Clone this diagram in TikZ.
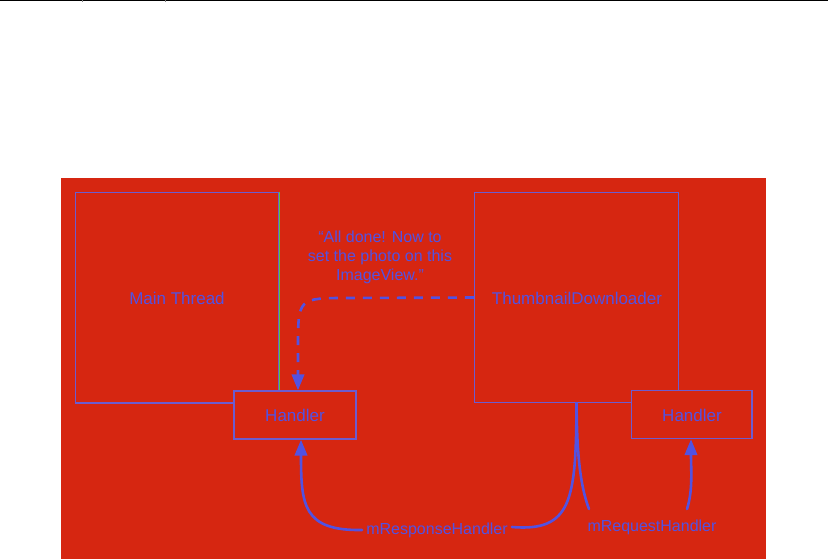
\documentclass[tikz,border=0pt]{standalone}
\usepackage{fontspec}
\setmainfont{Liberation Sans}
\usetikzlibrary{arrows.meta}
\definecolor{bgred}{RGB}{214,38,17}
\definecolor{ink}{RGB}{82,82,226}
\definecolor{edge}{RGB}{108,92,208}
\definecolor{gedge}{RGB}{95,200,50}
\tikzset{
  box/.style={draw=edge, line width=1.4pt, fill=bgred, inner sep=0pt},
  lbl/.style={text=ink, font=\fontsize{16}{19}\selectfont, inner sep=0pt, align=center},
  blbl/.style={text=ink, font=\fontsize{17}{20}\selectfont, inner sep=0pt, align=center},
  conn/.style={draw=ink, line width=2.6pt, line cap=round},
  tip/.style={-{Triangle[length=16pt,width=12.5pt]}},
}
\begin{document}
\begin{tikzpicture}[x=1pt,y=-1pt]
\useasboundingbox (0,0) rectangle (828,559);
\fill[white] (0,0) rectangle (828,559);
\draw[black, line width=1.5pt] (0,0.75) -- (828,0.75);
\draw[gray, line width=0.6pt] (82,0) -- (82,2.5) (165,0) -- (165,2.5);
\fill[bgred] (61,178) rectangle (766,559);
% boxes
\node[box, minimum width=203.5pt, minimum height=210.5pt] (mt) at (177.25,297.75) {};
\draw[gedge, line width=1.4pt] (mt.north east) -- (mt.south east);
\node[box, minimum width=204pt, minimum height=210pt] (td) at (576.5,297.5) {};
\node[box, minimum width=122pt, minimum height=48pt] (h1) at (295,415) {};
\node[box, minimum width=120.5pt, minimum height=48pt] (h2) at (691.75,414.5) {};
% texts
\node[blbl] (mtt) at (177,298) {Main Thread};
\node[blbl] (tdt) at (577,298) {ThumbnailDownloader};
\node[blbl] (h1t) at (295,415) {Handler};
\node[blbl] (h2t) at (692,415) {Handler};
\node[lbl] (quote) at (380,257) {\char"201C All done! Now to\\set the photo on this\\ImageView.\char"201D};
\node[lbl] (resp) at (437,530) {mResponseHandler};
\node[lbl] (req) at (652,527) {mRequestHandler};
% connectors
\coordinate (dcorner) at (298,298);
\draw[conn, tip, dash pattern=on 9pt off 8pt, line cap=butt] (td.west) -- (348,298) .. controls (dcorner) .. (298,348) -- (h1.north -| dcorner);
\coordinate (r1) at (301,441);
\draw[conn, tip] ([xshift=-4pt]resp.west) .. controls (303,531) and (301,505) .. (r1 |- h1.south);
\draw[conn] ([xshift=4pt,yshift=3pt]resp.east) .. controls (572,532) and (576,500) .. (td.south);
\coordinate (qs) at (589,509);
\draw[conn] (qs) .. controls (578,480) and (577,440) .. (td.south);
\coordinate (qa) at (687,509);
\coordinate (qt) at (691,438);
\draw[conn, tip] (qa) .. controls (693,490) and (691,470) .. (qt |- h2.south);
\end{tikzpicture}
\end{document}
